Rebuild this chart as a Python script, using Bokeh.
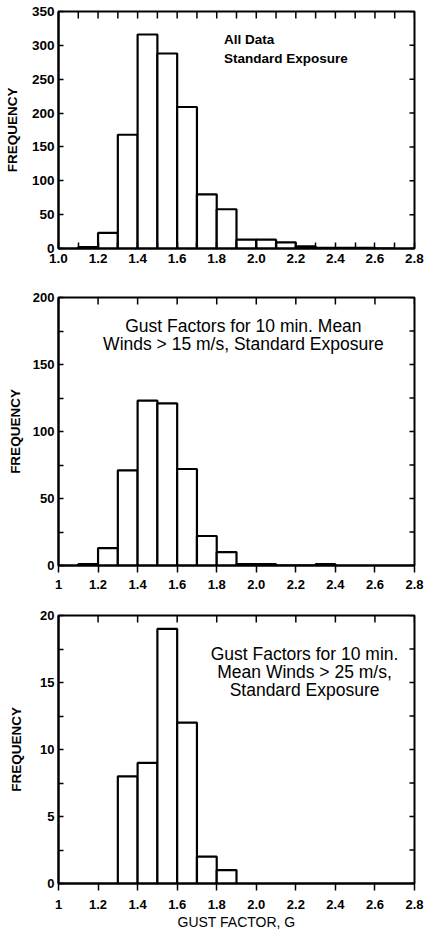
import math
from bokeh.plotting import figure
from bokeh.models import FixedTicker, Label, Range1d
from bokeh.layouts import column
from bokeh.embed import file_html
from bokeh.resources import INLINE

# ---------------- data ----------------
BIN_WIDTH = 0.1

p1_bin_starts = [1.1, 1.2, 1.3, 1.4, 1.5, 1.6, 1.7, 1.8, 1.9, 2.0, 2.1, 2.2, 2.3, 2.4, 2.5, 2.6]
p1_counts = [2, 23, 168, 316, 288, 209, 80, 58, 13, 13, 9, 3, 1, 1, 1, 0]

p2_bin_starts = [1.1, 1.2, 1.3, 1.4, 1.5, 1.6, 1.7, 1.8, 1.9, 2.0, 2.1, 2.2, 2.3]
p2_counts = [1, 13, 71, 123, 121, 72, 22, 10, 1, 1, 0, 0, 1]

p3_bin_starts = [1.3, 1.4, 1.5, 1.6, 1.7, 1.8]
p3_counts = [8, 9, 19, 12, 2, 1]

x_ticks = [1.0, 1.2, 1.4, 1.6, 1.8, 2.0, 2.2, 2.4, 2.6, 2.8]
x_minor_ticks = [1.1, 1.3, 1.5, 1.7, 1.9, 2.1, 2.3, 2.5, 2.7]
p1_x_labels = ["1.0", "1.2", "1.4", "1.6", "1.8", "2.0", "2.2", "2.4", "2.6", "2.8"]
p23_x_labels = ["1", "1.2", "1.4", "1.6", "1.8", "2.0", "2.2", "2.4", "2.6", "2.8"]

p1_y_ticks = [0, 50, 100, 150, 200, 250, 300, 350]
p2_y_ticks = [0, 50, 100, 150, 200]
p2_y_minor = [25, 75, 125, 175]
p3_y_ticks = [0, 5, 10, 15, 20]
p3_y_minor = [2.5, 7.5, 12.5, 17.5]

y_title = "FREQUENCY"
x_title = "GUST FACTOR, G"
p1_note = ["All Data", "Standard Exposure"]
p2_note = ["Gust Factors for 10 min. Mean", "Winds > 15 m/s, Standard Exposure"]
p3_note = ["Gust Factors for 10 min.", "Mean Winds > 25 m/s,", "Standard Exposure"]

FONT = "Liberation Sans"
X_MIN, X_MAX = 1.0, 2.8


def style_axis(ax, tick_in, tick_out, minor, size, standoff):
    ax.axis_line_color = "black"
    ax.axis_line_width = 2
    ax.major_tick_line_color = "black"
    ax.major_tick_line_width = 1.5
    ax.major_tick_in = tick_in
    ax.major_tick_out = tick_out
    if minor:
        ax.minor_tick_line_color = "black"
        ax.minor_tick_line_width = 1.5
        ax.minor_tick_in = tick_in
        ax.minor_tick_out = tick_out
    else:
        ax.minor_tick_line_color = None
    ax.major_label_text_font = FONT
    ax.major_label_text_font_style = "bold"
    ax.major_label_text_color = "black"
    ax.major_label_text_font_size = size
    ax.major_label_standoff = standoff


def make_panel(starts, counts, ymax, yticks, yminor, xlabels, height,
               b_top, b_bottom, panel1, ylab_standoff, x_standoff, xlabel=None):
    p = figure(width=429, height=height, output_backend="svg", toolbar_location=None,
               x_range=Range1d(X_MIN, X_MAX), y_range=Range1d(0, ymax),
               min_border_left=58, min_border_right=15,
               min_border_top=b_top, min_border_bottom=b_bottom)
    p.xgrid.visible = False
    p.ygrid.visible = False
    p.outline_line_color = "black"
    p.outline_line_width = 2
    p.background_fill_color = "white"
    p.border_fill_color = "white"

    rights = [s + BIN_WIDTH for s in starts]
    p.quad(left=starts, right=rights, bottom=0, top=counts,
           fill_color="white", line_color="black", line_width=2.2)

    # bottom axis
    xa = p.xaxis[0]
    xa.ticker = FixedTicker(ticks=x_ticks, minor_ticks=x_minor_ticks if panel1 else [])
    xa.major_label_overrides = {t: l for t, l in zip(x_ticks, xlabels)}
    if panel1:
        style_axis(xa, 6, 0, True, "13.5px", x_standoff)
    else:
        style_axis(xa, 0, 7, False, "13px", x_standoff)
    if xlabel:
        xa.axis_label = xlabel
        xa.axis_label_text_font = FONT
        xa.axis_label_text_font_style = "normal"
        xa.axis_label_text_color = "black"
        xa.axis_label_text_font_size = "14px"
        xa.axis_label_standoff = 2

    # left axis
    ya = p.yaxis[0]
    ya.ticker = FixedTicker(ticks=yticks, minor_ticks=yminor)
    style_axis(ya, 5, 0, True, "13.5px" if panel1 else "13px", 4)
    ya.axis_label = y_title
    ya.axis_label_text_font = FONT
    ya.axis_label_text_font_style = "bold"
    ya.axis_label_text_color = "black"
    ya.axis_label_text_font_size = "13.5px"
    ya.axis_label_standoff = ylab_standoff

    # inward ticks on the top and right edges
    top_ticks = x_ticks + (x_minor_ticks if panel1 else [])
    p.ray(x=top_ticks, y=[ymax] * len(top_ticks), length=7, length_units="screen",
          angle=-math.pi / 2, line_color="black", line_width=1.5)
    right_ticks = yticks + yminor
    p.ray(x=[X_MAX] * len(right_ticks), y=right_ticks, length=5, length_units="screen",
          angle=math.pi, line_color="black", line_width=1.5)
    return p


p1 = make_panel(p1_bin_starts, p1_counts, 350, p1_y_ticks, [], p1_x_labels,
                285, 11, 37, True, 9, 5)
p2 = make_panel(p2_bin_starts, p2_counts, 200, p2_y_ticks, p2_y_minor, p23_x_labels,
                315, 12, 35, False, 7, 7)
p3 = make_panel(p3_bin_starts, p3_counts, 20, p3_y_ticks, p3_y_minor, p23_x_labels,
                333, 15, 50, False, 13, 9, xlabel=x_title)

# annotations
for txt, yv in zip(p1_note, [308, 281]):
    p1.add_layout(Label(x=1.837, y=yv, text=txt, text_font=FONT, text_font_style="bold",
                        text_font_size="13.5px", text_baseline="middle", text_align="left",
                        text_color="black"))
for txt, yv in zip(p2_note, [179, 165.5]):
    p2.add_layout(Label(x=1.935, y=yv, text=txt, text_font=FONT, text_font_style="normal",
                        text_font_size="17.5px", text_baseline="middle", text_align="center",
                        text_color="black"))
for txt, yv in zip(p3_note, [17.15, 15.8, 14.45]):
    p3.add_layout(Label(x=2.244, y=yv, text=txt, text_font=FONT, text_font_style="normal",
                        text_font_size="17.5px", text_baseline="middle", text_align="center",
                        text_color="black"))

layout = column(p1, p2, p3, spacing=0)
open("out.html", "w").write(file_html(layout, INLINE))
